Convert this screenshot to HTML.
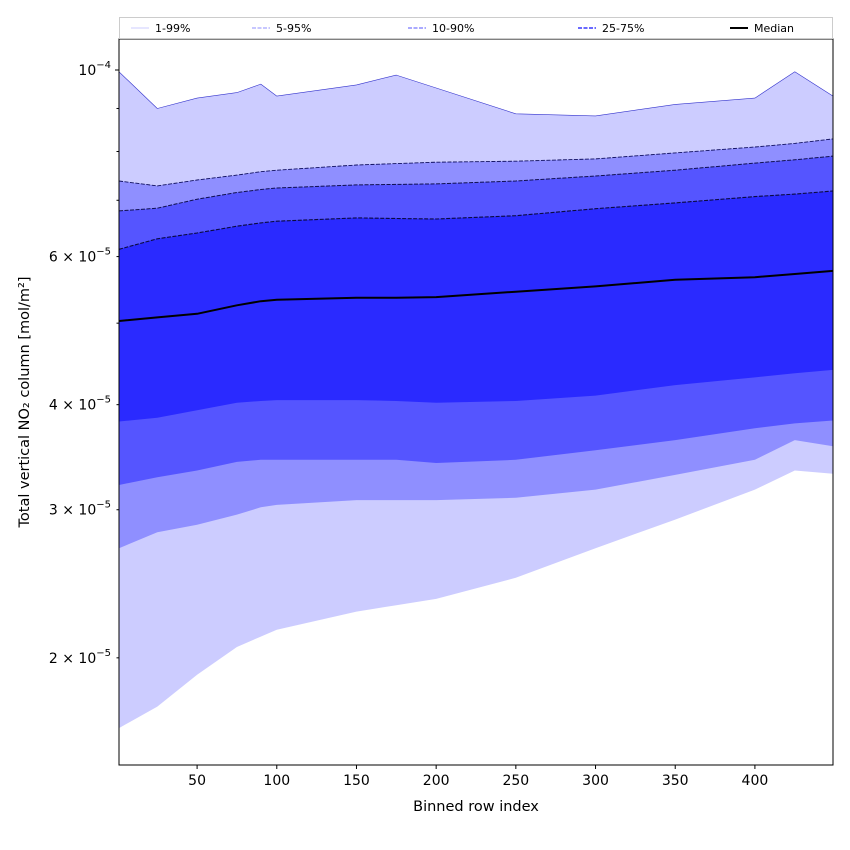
<!DOCTYPE html>
<html><head><meta charset="utf-8">
<style>
html,body{margin:0;padding:0;background:#fff;}
svg{display:block;font-family:"DejaVu Sans","Liberation Sans",sans-serif;}
</style></head>
<body>
<svg id="chart" width="850" height="850" viewBox="0 0 850 850"></svg>
<script>
const rows = [1,25,50,75,90,100,150,175,200,250,300,350,400,425,449];
// values in units of 1e-5 mol/m2
const p99 = [9.95,9.0,9.26,9.40,9.62,9.31,9.60,9.86,9.52,8.87,8.82,9.10,9.26,9.95,9.31];
const p95 = [7.38,7.28,7.40,7.50,7.57,7.60,7.71,7.74,7.77,7.79,7.84,7.97,8.10,8.18,8.28];
const p90 = [6.80,6.85,7.02,7.15,7.21,7.24,7.30,7.31,7.32,7.38,7.48,7.60,7.75,7.82,7.90];
const p75 = [6.12,6.30,6.40,6.52,6.58,6.61,6.67,6.66,6.65,6.71,6.84,6.95,7.07,7.12,7.18];
const median = [5.03,5.08,5.13,5.25,5.31,5.33,5.36,5.36,5.37,5.45,5.53,5.63,5.67,5.72,5.77];
const p25 = [3.82,3.86,3.94,4.02,4.04,4.05,4.05,4.04,4.02,4.04,4.10,4.22,4.31,4.36,4.40];
const p10 = [3.21,3.28,3.34,3.42,3.44,3.44,3.44,3.44,3.41,3.44,3.53,3.63,3.75,3.80,3.83];
const p5 = [2.70,2.82,2.88,2.96,3.02,3.04,3.08,3.08,3.08,3.10,3.17,3.30,3.44,3.63,3.57];
const p1 = [1.65,1.75,1.91,2.06,2.12,2.16,2.27,2.31,2.35,2.49,2.70,2.92,3.17,3.34,3.31];
const xTicks = [50,100,150,200,250,300,350,400];
const yMajor = [10];
const yLabeled = [2,3,4,6];
const yMinorAll = [2,3,4,5,6,7,8,9];

const NS="http://www.w3.org/2000/svg";
const svg=document.getElementById('chart');
const L=119,R=833,T=39,B=765;
const X0=1,X1=449;
function sx(v){return L+(v-X0)/(X1-X0)*(R-L);}
function sy(v){return 70-Math.log10(v/10)*841;}
function mk(tag,attrs,parent){const e=document.createElementNS(NS,tag);for(const k in attrs)e.setAttribute(k,attrs[k]);(parent||svg).appendChild(e);return e;}
function linePts(a){return rows.map((r,i)=>sx(r).toFixed(1)+','+sy(a[i]).toFixed(1));}
const clip=mk('clipPath',{id:'clip'});mk('rect',{x:L,y:T,width:R-L,height:B-T},clip);
const g=mk('g',{'clip-path':'url(#clip)'});
function bandG(hi,lo,fill,name){
  const pts=linePts(hi).concat(linePts(lo).reverse());
  const p=mk('polygon',{points:pts.join(' '),fill:fill},g);
  
  
}
bandG(p99,p1,'#ccccff','band-1-99');
bandG(p95,p5,'#8f8fff','band-5-95');
bandG(p90,p10,'#5555ff','band-10-90');
bandG(p75,p25,'#2a2aff','band-25-75');
function line(a,color,w,name,dash){
  const p=mk('polyline',{points:linePts(a).join(' '),fill:'none',stroke:color,'stroke-width':w,'stroke-linejoin':'round'},g);
  if(dash)p.setAttribute('stroke-dasharray',dash);
  
  
}
line(p99,'#3333cc',0.6,'line-p99');
line(p95,'#101060',0.9,'line-p95','4 1.5');
line(p90,'#101050',1,'line-p90','4 1.5');
line(p75,'#0a0a40',1.1,'line-p75','4 1.5');
line(median,'#000',2,'line-median');

const fr=mk('rect',{x:L,y:T,width:R-L,height:B-T,fill:'none',stroke:'#000','stroke-width':1});



xTicks.forEach(v=>{
  const x=sx(v);
  mk('line',{x1:x,y1:B,x2:x,y2:B+4,stroke:'#000'});
  const t=mk('text',{x:x,y:B+20,'font-size':14,'text-anchor':'middle'});
  t.textContent=v;
  
  
});
yMinorAll.forEach(v=>{const y=sy(v);mk('line',{x1:L-2.5,y1:y,x2:L,y2:y,stroke:'#000'});});
yMajor.forEach(v=>{
  const y=sy(v);mk('line',{x1:L-4,y1:y,x2:L,y2:y,stroke:'#000'});
  const t=mk('text',{x:L-8,y:y+5,'font-size':14,'text-anchor':'end'});
  t.innerHTML='10<tspan dy="-7" font-size="10">−4</tspan>';
  
  
});
yLabeled.forEach(v=>{
  const y=sy(v);
  const t=mk('text',{x:L-8,y:y+5,'font-size':14,'text-anchor':'end'});
  t.innerHTML=v+' × 10<tspan dy="-7" font-size="10">−5</tspan>';
  
  
});
const xl=mk('text',{x:476,y:811,'font-size':14.5,'text-anchor':'middle'});xl.textContent='Binned row index';


const yl=mk('text',{x:0,y:0,'font-size':14.5,'text-anchor':'middle',transform:'translate(29,402) rotate(-90)'});yl.textContent='Total vertical NO₂ column [mol/m²]';



const lg=mk('g',{});


mk('rect',{x:119.5,y:17.5,width:713,height:21,fill:'#fff',stroke:'#ccc','stroke-width':1},lg);
const leg=[['1-99%',124,'#ccccff',1,null],['5-95%',245,'#8f8fff',1,'4 1.5'],['10-90%',401,'#7777ff',1.3,'4 1.5'],['25-75%',571,'#5555ff',1.8,'4 1.5'],['Median',723,'#000',2,null]];
leg.forEach(e=>{
  const it=mk('g',{},lg);
  
  
  const l=mk('line',{x1:e[1]+7,y1:28,x2:e[1]+25,y2:28,stroke:e[2],'stroke-width':e[3]},it);
  if(e[4])l.setAttribute('stroke-dasharray',e[4]);
  const t=mk('text',{x:e[1]+31,y:32,'font-size':11},it);t.textContent=e[0];
});
</script>
</body></html>
